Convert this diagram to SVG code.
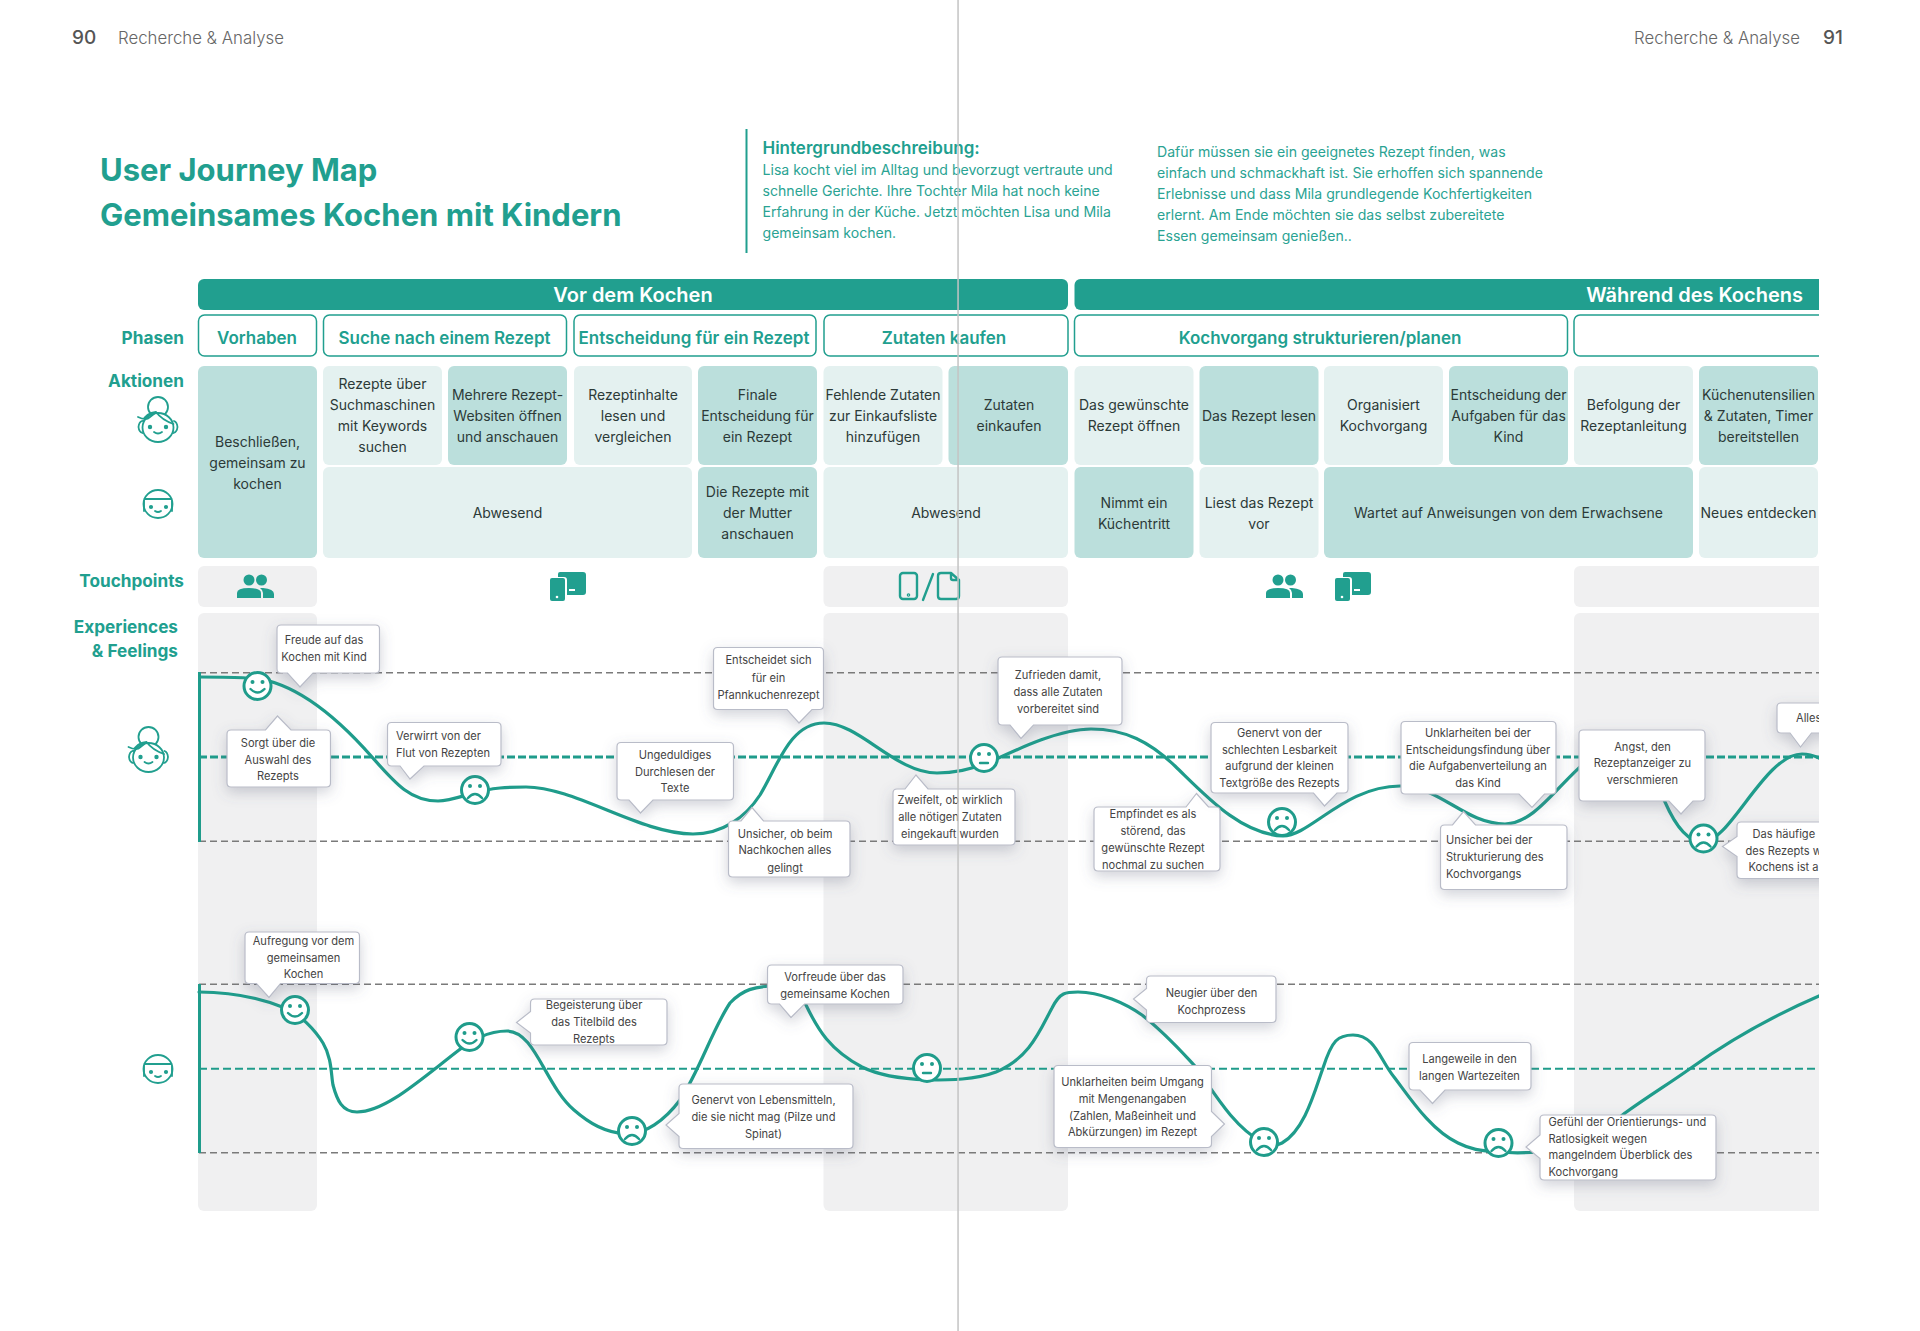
<svg xmlns="http://www.w3.org/2000/svg" width="1920" height="1331" viewBox="0 0 1920 1331">
<style>
text{font-family:"Inter","Liberation Sans",sans-serif}
.pg{font-size:16.8px;font-weight:300;fill:#666}
.pn{font-size:19px;font-weight:500;fill:#555}
.h1{font-size:31px;font-weight:700;fill:#219f8f}
.bh{font-size:17px;font-weight:600;fill:#219f8f}
.bt{font-size:14.1px;font-weight:400;fill:#2aa393}
.lab{font-size:17.2px;font-weight:700;fill:#219f8f;text-anchor:end}
.hd{font-size:20px;font-weight:600;fill:#fff}
.ph{font-size:17px;font-weight:600;fill:#219f8f;text-anchor:middle}
.ct{font-size:14px;fill:#2c3a38;text-anchor:middle}
.bb{font-size:11.1px;fill:#444;text-anchor:middle}
.bl{font-size:11.1px;fill:#444}
.bar{fill:#219f8f}
.pbox{fill:#fff;stroke:#219f8f;stroke-width:1.5}
.d{fill:#bbdfdc}
.l{fill:#e4f1f0}
.gr{fill:#f0f0f1}
.dash{fill:none;stroke:#7a7a7a;stroke-width:1.5;stroke-dasharray:7 4}
.curve{fill:none;stroke:#1f9c8b;stroke-width:3.2;stroke-linecap:round}
.axis{stroke:#1f9c8b;stroke-width:3}
.ballon{fill:#fff;stroke:#b9bcc8;stroke-width:1.2;filter:url(#sh)}
.ic{fill:none;stroke:#219f8f;stroke-width:1.8;stroke-linecap:round;stroke-linejoin:round}
.if{fill:#219f8f}
.fc{fill:#fff;stroke:#1f9c8b;stroke-width:3}
.ey{fill:#1f9c8b}
.mo{fill:none;stroke:#1f9c8b;stroke-width:2.4;stroke-linecap:round}
</style>
<defs>
<filter id="sh" x="-40%" y="-50%" width="180%" height="220%"><feDropShadow dx="0" dy="5" stdDeviation="7" flood-color="#5a5f78" flood-opacity=".28"/></filter>
<clipPath id="page"><rect x="0" y="0" width="1819" height="1331"/></clipPath>
<g id="mom">
<circle cx="158" cy="407" r="10"/>
<path d="M142 421 Q139 422 138.5 427 Q139 432 142.500 433 M174 421 Q177 422 177.500 427 Q177 432 173.500 433"/>
<ellipse cx="158" cy="427.500" rx="15.500" ry="14.500" fill="#fff"/>
<path d="M138 417 Q146 421 150 417 Q154 414 156 412 Q162 420 173.500 424 M143 421 Q146 413 156 412"/>
<circle cx="150" cy="427" r="1.300" fill="#219f8f"/><circle cx="166" cy="427" r="1.300" fill="#219f8f"/>
<path d="M154 432 Q158 435 162 432"/>
</g>
<g id="kid">
<ellipse cx="158" cy="504" rx="14.500" ry="14"/>
<path d="M144.500 499 H171.500 M144 501 V511 M172 501 V511"/>
<circle cx="151" cy="507" r="1.200" fill="#219f8f"/><circle cx="166" cy="507" r="1.200" fill="#219f8f"/>
<path d="M155 511 Q158 513 161 511"/>
</g>
<g id="people">
<circle cx="249" cy="580" r="5.500"/><circle cx="261.500" cy="580" r="5.500"/>
<path d="M237 598 V593 Q237 588 249 588 Q261 588 261 593 V598 Z"/>
<path d="M263 588 Q274 589 274 594 V598 H263 V593 Q263 590 260 588 Z"/>
</g>
<g id="devices">
<path d="M560 572 H583 Q586 572 586 575 V592 Q586 595 583 595 H567 V580 Q567 577 564 577 H558 V574 Q558 572 560 572 Z"/>
<rect x="550" y="578" width="15" height="23" rx="2"/>
<rect x="569" y="589" width="6" height="2" fill="#fff"/>
<circle cx="557" cy="597" r="1.300" fill="#fff"/>
</g>
<g id="smile"><circle class="fc" r="13.500"/><circle class="ey" cx="-5" cy="-4" r="2"/><circle class="ey" cx="5" cy="-4" r="2"/><path class="mo" d="M-7 3 Q0 10 7 3"/></g>
<g id="sad"><circle class="fc" r="13.500"/><circle class="ey" cx="-5" cy="-4" r="2"/><circle class="ey" cx="5" cy="-4" r="2"/><path class="mo" d="M-7 8 Q0 0 7 8"/></g>
<g id="neutral"><circle class="fc" r="13.500"/><circle class="ey" cx="-5" cy="-4" r="2"/><circle class="ey" cx="5" cy="-4" r="2"/><path class="mo" d="M-4 5 H4"/></g>
</defs>
<rect width="1920" height="1331" fill="#fff"/>
<g id="page-head">
<text class="pn" x="72" y="44">90</text>
<text class="pg" x="118" y="44">Recherche &amp; Analyse</text>
<text class="pg" x="1804" y="44" text-anchor="end" dx="-4">Recherche &amp; Analyse</text>
<text class="pn" x="1823" y="44">91</text>
</g>
<g id="title">
<text class="h1" x="100" y="181">User Journey Map</text>
<text class="h1" x="100" y="226">Gemeinsames Kochen mit Kindern</text>
</g>
<g id="background">
<rect x="745.500" y="129" width="2" height="124" fill="#219f8f"/>
<text class="bh" x="762.500" y="154">Hintergrundbeschreibung:</text>
<text class="bt"><tspan x="762.500" y="175">Lisa kocht viel im Alltag und bevorzugt vertraute und</tspan><tspan x="762.500" y="196">schnelle Gerichte. Ihre Tochter Mila hat noch keine</tspan><tspan x="762.500" y="217">Erfahrung in der Küche. Jetzt möchten Lisa und Mila</tspan><tspan x="762.500" y="238">gemeinsam kochen.</tspan></text>
<text class="bt"><tspan x="1157" y="157">Dafür müssen sie ein geeignetes Rezept finden, was</tspan><tspan x="1157" y="178">einfach und schmackhaft ist. Sie erhoffen sich spannende</tspan><tspan x="1157" y="199">Erlebnisse und dass Mila grundlegende Kochfertigkeiten</tspan><tspan x="1157" y="220">erlernt. Am Ende möchten sie das selbst zubereitete</tspan><tspan x="1157" y="241">Essen gemeinsam genießen..</tspan></text>
</g>
<g id="row-labels">
<text class="lab" x="184" y="344">Phasen</text>
<text class="lab" x="184" y="387">Aktionen</text>
<text class="lab" x="184" y="587">Touchpoints</text>
<text class="lab" x="178" y="633">Experiences</text>
<text class="lab" x="178" y="657">&amp; Feelings</text>
</g>
<g id="persona-icons" class="ic">
<use href="#mom"/>
<use href="#kid"/>
<use href="#mom" x="-9.500" y="330"/>
<use href="#kid" y="565"/>
</g>
<g id="table" clip-path="url(#page)">
<g id="stage-vor"><rect class="bar" x="198" y="279" width="870" height="31" rx="6"/><text class="hd" x="633" y="302" text-anchor="middle">Vor dem Kochen</text></g>
<g id="stage-waehrend"><rect class="bar" x="1074.500" y="279" width="800" height="31" rx="6"/><text class="hd" x="1803" y="302" text-anchor="end">Während des Kochens</text></g>
<g id="phase-vorhaben"><rect class="pbox" x="198.500" y="315" width="118" height="41" rx="6"/><text class="ph" x="257" y="344">Vorhaben</text></g>
<g id="phase-suche"><rect class="pbox" x="323.500" y="315" width="243" height="41" rx="6"/><text class="ph" x="444.500" y="344">Suche nach einem Rezept</text></g>
<g id="phase-entscheidung"><rect class="pbox" x="574" y="315" width="242" height="41" rx="6"/><text class="ph" x="694" y="344">Entscheidung für ein Rezept</text></g>
<g id="phase-zutaten"><rect class="pbox" x="824" y="315" width="244" height="41" rx="6"/><text class="ph" x="944" y="344">Zutaten kaufen</text></g>
<g id="phase-koch"><rect class="pbox" x="1074.500" y="315" width="493" height="41" rx="6"/><text class="ph" x="1320" y="344">Kochvorgang strukturieren/planen</text></g>
<g id="phase-leer"><rect class="pbox" x="1574" y="315" width="300" height="41" rx="6"/></g>
<g id="c1"><rect class="d" x="198" y="366" width="119" height="192" rx="6"/><text class="ct"><tspan x="257.500" y="447">Beschließen,</tspan><tspan x="257.500" y="468">gemeinsam zu</tspan><tspan x="257.500" y="489">kochen</tspan></text></g>
<g id="c2"><rect class="l" x="323" y="366" width="119" height="99" rx="6"/><text class="ct"><tspan x="382.500" y="388.500">Rezepte über</tspan><tspan x="382.500" y="409.500">Suchmaschinen</tspan><tspan x="382.500" y="431">mit Keywords</tspan><tspan x="382.500" y="452">suchen</tspan></text></g>
<g id="c3"><rect class="d" x="448" y="366" width="119" height="99" rx="6"/><text class="ct"><tspan x="507.500" y="399.500">Mehrere Rezept-</tspan><tspan x="507.500" y="421">Websiten öffnen</tspan><tspan x="507.500" y="442">und anschauen</tspan></text></g>
<g id="c4"><rect class="l" x="574" y="366" width="118" height="99" rx="6"/><text class="ct"><tspan x="633" y="399.500">Rezeptinhalte</tspan><tspan x="633" y="421">lesen und</tspan><tspan x="633" y="442">vergleichen</tspan></text></g>
<g id="c5"><rect class="d" x="698" y="366" width="119" height="99" rx="6"/><text class="ct"><tspan x="757.500" y="399.500">Finale</tspan><tspan x="757.500" y="421">Entscheidung für</tspan><tspan x="757.500" y="442">ein Rezept</tspan></text></g>
<g id="c6"><rect class="l" x="823.500" y="366" width="119" height="99" rx="6"/><text class="ct"><tspan x="883" y="399.500">Fehlende Zutaten</tspan><tspan x="883" y="421">zur Einkaufsliste</tspan><tspan x="883" y="442">hinzufügen</tspan></text></g>
<g id="c7"><rect class="d" x="948.500" y="366" width="119.500" height="99" rx="6"/><text class="ct"><tspan x="1009" y="409.500">Zutaten</tspan><tspan x="1009" y="430.500">einkaufen</tspan></text></g>
<g id="c8"><rect class="l" x="1074.500" y="366" width="119" height="99" rx="6"/><text class="ct"><tspan x="1134" y="409.500">Das gewünschte</tspan><tspan x="1134" y="430.500">Rezept öffnen</tspan></text></g>
<g id="c9"><rect class="d" x="1199.500" y="366" width="119" height="99" rx="6"/><text class="ct" x="1259" y="421">Das Rezept lesen</text></g>
<g id="c10"><rect class="l" x="1324" y="366" width="119" height="99" rx="6"/><text class="ct"><tspan x="1383.500" y="409.500">Organisiert</tspan><tspan x="1383.500" y="430.500">Kochvorgang</tspan></text></g>
<g id="c11"><rect class="d" x="1449" y="366" width="119" height="99" rx="6"/><text class="ct"><tspan x="1508.500" y="399.500">Entscheidung der</tspan><tspan x="1508.500" y="421">Aufgaben für das</tspan><tspan x="1508.500" y="442">Kind</tspan></text></g>
<g id="c12"><rect class="l" x="1574" y="366" width="119" height="99" rx="6"/><text class="ct"><tspan x="1633.500" y="409.500">Befolgung der</tspan><tspan x="1633.500" y="430.500">Rezeptanleitung</tspan></text></g>
<g id="c13"><rect class="d" x="1699" y="366" width="119" height="99" rx="6"/><text class="ct"><tspan x="1758.500" y="399.500">Küchenutensilien</tspan><tspan x="1758.500" y="421">&amp; Zutaten, Timer</tspan><tspan x="1758.500" y="442">bereitstellen</tspan></text></g>
<g id="k1"><rect class="l" x="323" y="467" width="369" height="91" rx="6"/><text class="ct" x="507.500" y="518">Abwesend</text></g>
<g id="k2"><rect class="d" x="698" y="467" width="119" height="91" rx="6"/><text class="ct"><tspan x="757.500" y="497">Die Rezepte mit</tspan><tspan x="757.500" y="518">der Mutter</tspan><tspan x="757.500" y="539">anschauen</tspan></text></g>
<g id="k3"><rect class="l" x="823.500" y="467" width="244.500" height="91" rx="6"/><text class="ct" x="946" y="518">Abwesend</text></g>
<g id="k4"><rect class="d" x="1074.500" y="467" width="119" height="91" rx="6"/><text class="ct"><tspan x="1134" y="508">Nimmt ein</tspan><tspan x="1134" y="529">Küchentritt</tspan></text></g>
<g id="k5"><rect class="l" x="1199.500" y="467" width="119" height="91" rx="6"/><text class="ct"><tspan x="1259" y="508">Liest das Rezept</tspan><tspan x="1259" y="529">vor</tspan></text></g>
<g id="k6"><rect class="d" x="1324" y="467" width="369" height="91" rx="6"/><text class="ct" x="1508.500" y="518">Wartet auf Anweisungen von dem Erwachsene</text></g>
<g id="k7"><rect class="l" x="1699" y="467" width="119" height="91" rx="6"/><text class="ct" x="1758.500" y="518">Neues entdecken</text></g>
<g id="touch-bg"><rect class="gr" x="198" y="566" width="119" height="41" rx="6"/><rect class="gr" x="823.500" y="566" width="244.500" height="41" rx="6"/><rect class="gr" x="1574" y="566" width="300" height="41" rx="6"/></g>
<g id="exp-bg"><rect class="gr" x="198" y="613" width="119" height="598" rx="6"/><rect class="gr" x="823.500" y="613" width="244.500" height="598" rx="6"/><rect class="gr" x="1574" y="613" width="300" height="598" rx="6"/></g>
</g>
<g id="touch-icons">
<use href="#people" class="if"/>
<use href="#devices" class="if"/>
<g id="phone-doc" class="ic" style="stroke-width:2.4"><rect x="900" y="573" width="17" height="26" rx="3"/><circle cx="908.500" cy="595" r=".6"/><path d="M923 600 L933 574"/><path d="M941 573 H951 L959 580 V596 Q959 599 956 599 H941 Q938 599 938 596 V576 Q938 573 941 573 Z M951 573 V578 Q951 580 953 580 H959"/></g>
<use href="#people" class="if" x="1029"/>
<use href="#devices" class="if" x="785"/>
</g>
<g id="connectors" clip-path="url(#page)">
<path class="dash" d="M199 672.700 H1819"/>
<path d="M199 757 H1819" fill="none" stroke="#1f9c8b" stroke-width="3" stroke-dasharray="8 3"/>
<path class="dash" d="M199 841.300 H1819"/>
<path class="dash" d="M199 984.300 H1819"/>
<path d="M199 1068.700 H1819" fill="none" stroke="#1f9c8b" stroke-width="2" stroke-dasharray="8 4"/>
<path class="dash" d="M199 1152.700 H1819"/>
<path class="axis" d="M199.500 672 V842 M199.500 984 V1153"/>
<path id="curve-mutter" class="curve" d="M200 677 C220 677 235 677 246 678 C290 678 335 715 372 757 C395 783 410 801 438 801 C455 801 475 790 500 788 C510 787 518 787 526 787 C575 787 640 834 693 834 C722 834 745 818 760 795 C778 765 790 723 824 723 C860 723 895 773 937 773 C955 773 975 768 990 762 C1020 748 1060 729 1091 729 C1125 729 1150 742 1175 766 C1205 795 1240 834 1283 836 C1310 836 1345 786 1400 786 C1440 786 1465 824 1505 824 C1545 824 1575 750 1620 745 C1640 745 1655 780 1665 802 C1672 818 1685 842 1703 842 C1730 842 1765 754 1802 754 C1808 754 1815 756 1819 758"/>
<path id="curve-kind" class="curve" d="M199 992 C230 992 260 998 285 1008 C300 1014 315 1030 323 1043 C332 1058 331 1075 333 1085 C337 1100 342 1112 357 1112 C385 1112 420 1080 459 1050 C470 1041 488 1031 507 1031 C535 1031 545 1085 574 1110 C590 1124 605 1132 625 1134 C645 1135 665 1120 680 1100 C700 1070 712 1030 730 1003 C742 990 755 986 775 986 C790 986 797 990 806 1005 C818 1030 830 1050 862 1067 C880 1076 905 1079 927 1080 C950 1080 975 1080 996 1072 C1030 1058 1040 1030 1052 1008 C1060 992 1066 992 1078 992 C1100 992 1125 1003 1142 1015 C1165 1033 1180 1050 1194 1065 C1208 1082 1230 1125 1262 1142 C1270 1146 1276 1146 1282 1143 C1305 1130 1315 1090 1323 1068 C1332 1040 1338 1035 1353 1035 C1375 1035 1380 1060 1394 1077 C1408 1095 1430 1130 1458 1143 C1470 1149 1480 1151 1498 1152 C1510 1153 1525 1153 1537 1152 C1570 1150 1600 1135 1625 1113 C1650 1095 1670 1083 1691 1068 C1730 1040 1775 1015 1819 996"/>
</g>
<g id="faces">
<use href="#smile" x="257.500" y="686"/>
<use href="#sad" x="475" y="790"/>
<use href="#neutral" x="984" y="758"/>
<use href="#sad" x="1282" y="822"/>
<use href="#sad" x="1703.500" y="838.500"/>
<use href="#smile" x="295" y="1010"/>
<use href="#smile" x="469.500" y="1037"/>
<use href="#sad" x="632" y="1131"/>
<use href="#neutral" x="927" y="1068"/>
<use href="#sad" x="1264" y="1142"/>
<use href="#sad" x="1498.500" y="1143"/>
</g>
<g id="bubbles" clip-path="url(#page)">
<g id="b1"><path class="ballon" d="M281 625 H375.500 Q379.500 625 379.500 629 V669 Q379.500 673 375.500 673 H313 L300 687 L287.500 673 H281 Q277 673 277 669 V629 Q277 625 281 625 Z"/><text class="bb"><tspan x="324" y="644">Freude auf das</tspan><tspan x="324" y="661">Kochen mit Kind</tspan></text></g>
<g id="b2"><path class="ballon" d="M231 730 H265.500 L277.500 716 L291 730 H326.500 Q330.500 730 330.500 734 V783 Q330.500 787 326.500 787 H231 Q227 787 227 783 V734 Q227 730 231 730 Z"/><text class="bb"><tspan x="278" y="747">Sorgt über die</tspan><tspan x="278" y="763.500">Auswahl des</tspan><tspan x="278" y="780">Rezepts</tspan></text></g>
<g id="b3"><path class="ballon" d="M391.500 722.500 H497 Q501 722.500 501 726.500 V762 Q501 766 497 766 H424 L410 779 L400 766 H391.500 Q387.500 766 387.500 762 V726.500 Q387.500 722.500 391.500 722.500 Z"/><text class="bl"><tspan x="396" y="740">Verwirrt von der</tspan><tspan x="396" y="757">Flut von Rezepten</tspan></text></g>
<g id="b4"><path class="ballon" d="M621 742.500 H729.500 Q733.500 742.500 733.500 746.500 V796 Q733.500 800 729.500 800 H653 L640.500 813 L629 800 H621 Q617 800 617 796 V746.500 Q617 742.500 621 742.500 Z"/><text class="bb"><tspan x="675" y="759">Ungeduldiges</tspan><tspan x="675" y="776">Durchlesen der</tspan><tspan x="675" y="792">Texte</tspan></text></g>
<g id="b5"><path class="ballon" d="M717.500 647.500 H819.500 Q823.500 647.500 823.500 651.500 V705.500 Q823.500 709.500 819.500 709.500 H812 L799 723 L787 709.500 H717.500 Q713.500 709.500 713.500 705.500 V651.500 Q713.500 647.500 717.500 647.500 Z"/><text class="bb"><tspan x="768.500" y="663.500">Entscheidet sich</tspan><tspan x="768.500" y="681.500">für ein</tspan><tspan x="768.500" y="698.500">Pfannkuchenrezept</tspan></text></g>
<g id="b6"><path class="ballon" d="M732.500 821 H741 L752 807.500 L763.500 821 H846 Q850 821 850 825 V873 Q850 877 846 877 H732.500 Q728.500 877 728.500 873 V825 Q728.500 821 732.500 821 Z"/><text class="bb"><tspan x="785" y="837.500">Unsicher, ob beim</tspan><tspan x="785" y="854">Nachkochen alles</tspan><tspan x="785" y="871.500">gelingt</tspan></text></g>
<g id="b7"><path class="ballon" d="M897 789 H905 L916 775 L928 789 H1011 Q1015 789 1015 793 V841 Q1015 845 1011 845 H897 Q893 845 893 841 V793 Q893 789 897 789 Z"/><text class="bb"><tspan x="950" y="803.500">Zweifelt, ob wirklich</tspan><tspan x="950" y="821">alle nötigen Zutaten</tspan><tspan x="950" y="837.500">eingekauft wurden</tspan></text></g>
<g id="b8"><path class="ballon" d="M1002 657 H1118 Q1122 657 1122 661 V721 Q1122 725 1118 725 H1033.500 L1021 738.500 L1010 725 H1002 Q998 725 998 721 V661 Q998 657 1002 657 Z"/><text class="bb"><tspan x="1058" y="679">Zufrieden damit,</tspan><tspan x="1058" y="696">dass alle Zutaten</tspan><tspan x="1058" y="712.500">vorbereitet sind</tspan></text></g>
<g id="b9"><path class="ballon" d="M1098 807 H1186 L1196.500 793.500 L1208.500 807 H1216 Q1220 807 1220 811 V867 Q1220 871 1216 871 H1098 Q1094 871 1094 867 V811 Q1094 807 1098 807 Z"/><text class="bb"><tspan x="1153" y="818">Empfindet es als</tspan><tspan x="1153" y="835">störend, das</tspan><tspan x="1153" y="852">gewünschte Rezept</tspan><tspan x="1153" y="868.500">nochmal zu suchen</tspan></text></g>
<g id="b10"><path class="ballon" d="M1215 722.500 H1344 Q1348 722.500 1348 726.500 V789 Q1348 793 1344 793 H1337 L1324.500 806 L1313.500 793 H1215 Q1211 793 1211 789 V726.500 Q1211 722.500 1215 722.500 Z"/><text class="bb"><tspan x="1279.500" y="736.500">Genervt von der</tspan><tspan x="1279.500" y="753.500">schlechten Lesbarkeit</tspan><tspan x="1279.500" y="770">aufgrund der kleinen</tspan><tspan x="1279.500" y="787">Textgröße des Rezepts</tspan></text></g>
<g id="b11"><path class="ballon" d="M1405 721.500 H1552 Q1556 721.500 1556 725.500 V790 Q1556 794 1552 794 H1544.500 L1532 807.500 L1519 794 H1405 Q1401 794 1401 790 V725.500 Q1401 721.500 1405 721.500 Z"/><text class="bb"><tspan x="1478" y="736.500">Unklarheiten bei der</tspan><tspan x="1478" y="753.500">Entscheidungsfindung über</tspan><tspan x="1478" y="770">die Aufgabenverteilung an</tspan><tspan x="1478" y="787">das Kind</tspan></text></g>
<g id="b12"><path class="ballon" d="M1444.500 825 H1452.500 L1463.500 811.500 L1475.500 825 H1563 Q1567 825 1567 829 V885.500 Q1567 889.500 1563 889.500 H1444.500 Q1440.500 889.500 1440.500 885.500 V829 Q1440.500 825 1444.500 825 Z"/><text class="bl"><tspan x="1446" y="844">Unsicher bei der</tspan><tspan x="1446" y="861">Strukturierung des</tspan><tspan x="1446" y="878">Kochvorgangs</tspan></text></g>
<g id="b13"><path class="ballon" d="M1583 730 H1701 Q1705 730 1705 734 V797 Q1705 801 1701 801 H1693 L1681 814 L1669 801 H1583 Q1579 801 1579 797 V734 Q1579 730 1583 730 Z"/><text class="bb"><tspan x="1642.500" y="750.500">Angst, den</tspan><tspan x="1642.500" y="767">Rezeptanzeiger zu</tspan><tspan x="1642.500" y="784">verschmieren</tspan></text></g>
<g id="b14"><path class="ballon" d="M1781 703 H1900 V733 H1811.500 L1800.500 747 L1790 733 H1781 Q1777 733 1777 729 V707 Q1777 703 1781 703 Z"/><text class="bl" x="1796" y="722">Alles</text></g>
<g id="b15"><path class="ballon" d="M1741 822 H1900 V878.500 H1741 Q1737 878.500 1737 874.500 V856.500 L1722.500 846.500 L1737 836.500 V826 Q1737 822 1741 822 Z"/><text class="bl"><tspan x="1752.500" y="837.500">Das häufige</tspan><tspan x="1745.500" y="854.500">des Rezepts w</tspan><tspan x="1748.500" y="871">Kochens ist a</tspan></text></g>
<g id="b16"><path class="ballon" d="M249 932 H355.500 Q359.500 932 359.500 936 V979.500 Q359.500 983.500 355.500 983.500 H280.500 L269 997.500 L256.500 983.500 H249 Q245 983.500 245 979.500 V936 Q245 932 249 932 Z"/><text class="bb"><tspan x="303.500" y="945">Aufregung vor dem</tspan><tspan x="303.500" y="961.500">gemeinsamen</tspan><tspan x="303.500" y="978">Kochen</tspan></text></g>
<g id="b17"><path class="ballon" d="M534.500 999 H663 Q667 999 667 1003 V1041 Q667 1045 663 1045 H534.500 Q530.500 1045 530.500 1041 V1033 L516.500 1022.500 L530.500 1011.500 V1003 Q530.500 999 534.500 999 Z"/><text class="bb"><tspan x="594" y="1009">Begeisterung über</tspan><tspan x="594" y="1026">das Titelbild des</tspan><tspan x="594" y="1042.500">Rezepts</tspan></text></g>
<g id="b18"><path class="ballon" d="M771.500 965 H899 Q903 965 903 969 V1000 Q903 1004 899 1004 H804.500 L791 1017.500 L779.500 1004 H771.500 Q767.500 1004 767.500 1000 V969 Q767.500 965 771.500 965 Z"/><text class="bb"><tspan x="835" y="981">Vorfreude über das</tspan><tspan x="835" y="997.500">gemeinsame Kochen</tspan></text></g>
<g id="b19"><path class="ballon" d="M683 1084 H849 Q853 1084 853 1088 V1144.500 Q853 1148.500 849 1148.500 H683 Q679 1148.500 679 1144.500 V1136.500 L666 1125 L679 1113.500 V1088 Q679 1084 683 1084 Z"/><text class="bb"><tspan x="763.500" y="1104">Genervt von Lebensmitteln,</tspan><tspan x="763.500" y="1121">die sie nicht mag (Pilze und</tspan><tspan x="763.500" y="1137.500">Spinat)</tspan></text></g>
<g id="b20"><path class="ballon" d="M1058 1065.500 H1207.500 Q1211.500 1065.500 1211.500 1069.500 V1111.500 L1224.500 1124 L1211.500 1136.500 V1143.500 Q1211.500 1147.500 1207.500 1147.500 H1058 Q1054 1147.500 1054 1143.500 V1069.500 Q1054 1065.500 1058 1065.500 Z"/><text class="bb"><tspan x="1132.500" y="1086">Unklarheiten beim Umgang</tspan><tspan x="1132.500" y="1102.500">mit Mengenangaben</tspan><tspan x="1132.500" y="1119.500">(Zahlen, Maßeinheit und</tspan><tspan x="1132.500" y="1136">Abkürzungen) im Rezept</tspan></text></g>
<g id="b21"><path class="ballon" d="M1150.500 976 H1272 Q1276 976 1276 980 V1018.500 Q1276 1022.500 1272 1022.500 H1150.500 Q1146.500 1022.500 1146.500 1018.500 V1010 L1133.500 999 L1146.500 988.500 V980 Q1146.500 976 1150.500 976 Z"/><text class="bb"><tspan x="1211.500" y="996.500">Neugier über den</tspan><tspan x="1211.500" y="1013.500">Kochprozess</tspan></text></g>
<g id="b22"><path class="ballon" d="M1413 1042.500 H1527 Q1531 1042.500 1531 1046.500 V1086 Q1531 1090 1527 1090 H1445 L1432.500 1103.500 L1420 1090 H1413 Q1409 1090 1409 1086 V1046.500 Q1409 1042.500 1413 1042.500 Z"/><text class="bb"><tspan x="1469.500" y="1062.500">Langeweile in den</tspan><tspan x="1469.500" y="1079.500">langen Wartezeiten</tspan></text></g>
<g id="b23"><path class="ballon" d="M1544 1115 H1712 Q1716 1115 1716 1119 V1176 Q1716 1180 1712 1180 H1544 Q1540 1180 1540 1176 V1158.500 L1526 1147 L1540 1135 V1119 Q1540 1115 1544 1115 Z"/><text class="bl"><tspan x="1548.500" y="1125.500">Gefühl der Orientierungs- und</tspan><tspan x="1548.500" y="1142.500">Ratlosigkeit wegen</tspan><tspan x="1548.500" y="1159">mangelndem Überblick des</tspan><tspan x="1548.500" y="1176">Kochvorgang</tspan></text></g>
</g>
<rect id="fold" x="957.300" y="0" width="1.500" height="1331" fill="#c4c4c4"/>
</svg>
